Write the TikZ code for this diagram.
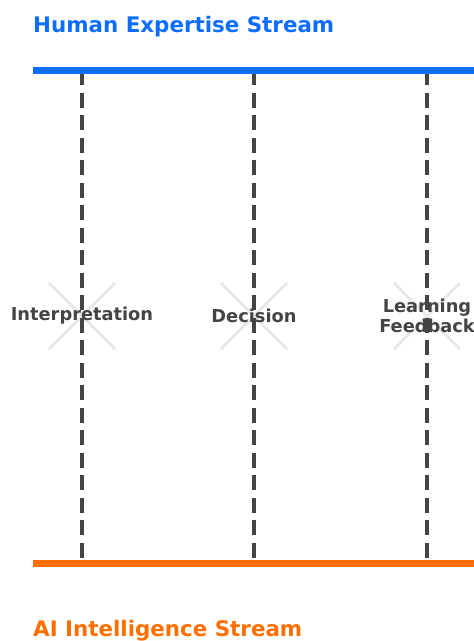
\documentclass[tikz,border=0pt]{standalone}
\usepackage{fontspec}
\setmainfont{DejaVu Sans}

\definecolor{humanblue}{HTML}{0D6EFD}
\definecolor{aiorange}{HTML}{FF6F00}
\definecolor{linkgrey}{HTML}{444444}
\definecolor{crossgrey}{HTML}{E8E8E8}

\begin{document}
\begin{tikzpicture}[x=1pt,y=-1pt,
  stream/.style={line width=7pt},
  link/.style={linkgrey, line width=4pt, dash pattern=on 15pt off 7.5pt},
  cross/.style={crossgrey, line width=3pt},
  stage/.style={font=\bfseries\fontsize{17.8}{20}\selectfont, text=linkgrey,
    align=center, inner sep=0pt},
  title/.style={font=\bfseries\fontsize{21.4}{25}\selectfont, anchor=base west,
    inner sep=0pt}]

\newcommand\Top{70};
\newcommand\Bot{563};

\useasboundingbox (0,0) rectangle (474,641);

%% titles
\node[title, text=humanblue] (humanTitle) at (33,32) {Human Expertise Stream};
\node[title, text=aiorange] (aiTitle) at (33,636) {AI Intelligence Stream};

%% ends of the links
\coordinate (h1) at ( 82,\Top); \coordinate (a1) at ( 82,\Bot);
\coordinate (h2) at (254,\Top); \coordinate (a2) at (254,\Bot);
\coordinate (h3) at (427,\Top); \coordinate (a3) at (427,\Bot);

%% crosses behind the stages
\foreach \i/\x in {1/82,2/254,3/427}{
  \coordinate (c\i) at (\x,316);
  \draw[cross] (c\i) +(-33,-33) -- +(33,33);
  \draw[cross] (c\i) +(-33,33) -- +(33,-33);
}

\draw[link] (h1) -- (a1);
\draw[link] (h2) -- (a2);
\draw[link] (h3) -- (a3);

%% streams
\draw[stream, humanblue] (33,\Top) coordinate (humanStart) -- (474,\Top) coordinate (humanEnd);
\draw[stream, aiorange] (33,\Bot) coordinate (aiStart) -- (474,\Bot) coordinate (aiEnd);

%% stages
\node[stage] (interp) at (c1) {Interpretation};
\node[stage] (decision) at (c2) {Decision};
\node[stage] (learning) at (c3) {Learning\\Feedback};

\end{tikzpicture}
\end{document}
